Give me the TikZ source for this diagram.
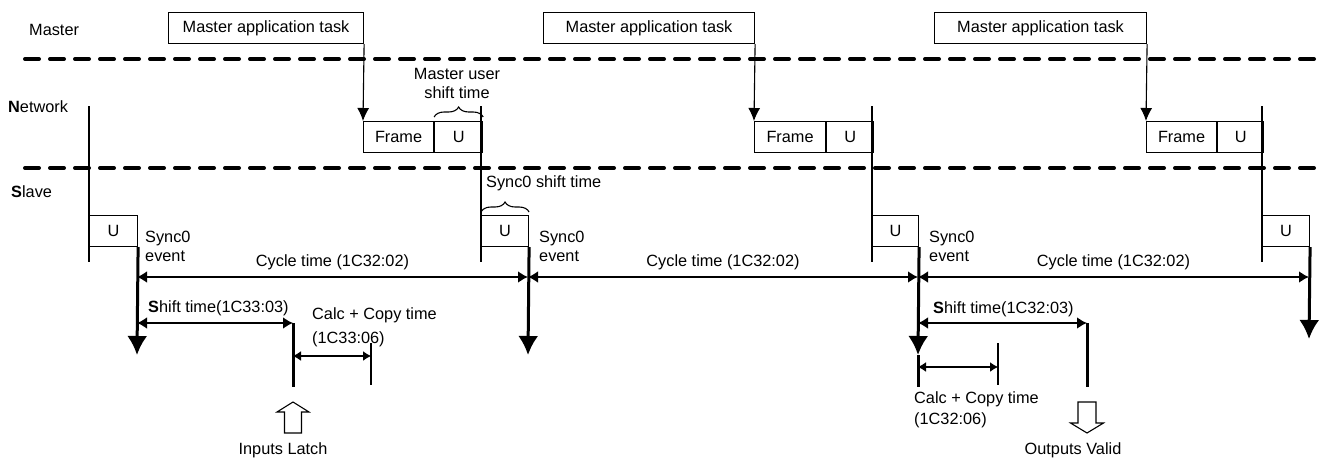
\documentclass[tikz,border=0pt]{standalone}
\usepackage{fontspec}
\setmainfont{Liberation Sans}
\usepackage{tikz}
\tikzset{>=latex}
\usetikzlibrary{arrows.meta}
\usetikzlibrary{decorations.pathreplacing}
\tikzset{
    lane/.style={line width=4pt, dash pattern=on 14pt off 11pt, line cap=round},
    slot/.style={draw, line width=1.1pt, minimum height=31pt, inner sep=0pt, anchor=north west},
    wire/.style={line width=1.1pt},
    event/.style={line width=3pt},
    fall/.style={event, -{Latex[length=19pt,width=20pt]}},
    span/.style={line width=2.8pt, {Latex[length=10pt,width=12pt]}-{Latex[length=10pt,width=12pt]}},
    copyspan/.style={line width=1.3pt, {Latex[length=8pt,width=10pt]}-{Latex[length=8pt,width=10pt]}},
    bracket/.style={line width=1.1pt, decorate, decoration={brace, amplitude=10pt}}
}

\begin{document}
\begin{tikzpicture}[x=1pt, y=-1pt, inner sep=0pt, font=\fontsize{16.3}{19}\selectfont]
            \useasboundingbox (0,0) rectangle (1323,460);
            \node[anchor=west] (master) at (29,30) {Master};
            \node[anchor=west] (network) at (8,107) {\textbf{N}etwork};
            \node[anchor=west] (slave) at (11,192) {\textbf{S}lave};
            \draw[lane] (25,59) -- (1321,59);
            \draw[lane] (25,168) -- (1321,168);

            \node[slot, minimum width=195pt] (task1) at (168,12) {Master application task};
            \node[slot, minimum width=211pt] (task2) at (543,12) {Master application task};
            \node[slot, minimum width=212pt] (task3) at (934,12) {Master application task};
            \node[slot, minimum width=70pt] (frame1) at (363,121) {Frame};
            \node[slot, minimum width=48pt] (unet1) at (frame1.north east) {U};
            \node[slot, minimum width=71pt] (frame2) at (754,121) {Frame};
            \node[slot, minimum width=47pt] (unet2) at (frame2.north east) {U};
            \node[slot, minimum width=70pt] (frame3) at (1146,121) {Frame};
            \node[slot, minimum width=46pt] (unet3) at (frame3.north east) {U};
            \draw[wire, -{Latex[length=13pt,width=12pt]}] (task1.south east) -- (frame1.north west);
            \draw[wire, -{Latex[length=13pt,width=12pt]}] (task2.south east) -- (frame2.north west);
            \draw[wire, -{Latex[length=13pt,width=12pt]}] (task3.south east) -- (frame3.north west);

            \node[slot, minimum width=48pt] (uslave0) at (89,215) {U};
            \node[slot, minimum width=47pt] (uslave1) at (481,215) {U};
            \node[slot, minimum width=46pt] (uslave2) at (872,215) {U};
            \node[slot, minimum width=47pt] (uslave3) at (1262,215) {U};
            \draw[wire] (89,106) -- (89,262);
            \draw[wire] (481,106) -- (481,262);
            \draw[wire] (872,106) -- (872,262);
            \draw[wire] (1262,106) -- (1262,262);

            \draw[bracket] ([yshift=4pt]unet1.north west) -- ([yshift=4pt]unet1.north east);
            \node[align=center] (usertext) at (457,83) {Master user\\shift time};
            \draw[bracket] ([yshift=3pt]uslave1.north west) -- ([yshift=3pt]uslave1.north east);
            \node[anchor=west] (synctext) at (486,183) {Sync0 shift time};

            \coordinate (tip0) at (137,355);
            \coordinate (tip1) at (528,355);
            \coordinate (tip2) at (918,355);
            \coordinate (tip3) at (1309,339);
            \coordinate (end2) at (918,387);
            \draw[fall] (uslave0.south east) -- (tip0);
            \draw[fall] (uslave1.south east) -- (tip1);
            \draw[fall] (uslave2.south east) -- (tip2);
            \draw[event] (tip2) -- (end2);
            \draw[fall] (uslave3.south east) -- (tip3);
            \node[anchor=west, align=left] (ev0) at (145,246.5) {Sync0\\event};
            \node[anchor=west, align=left] (ev1) at (539,246.5) {Sync0\\event};
            \node[anchor=west, align=left] (ev2) at (929,246.5) {Sync0\\event};

            \coordinate (c0) at (137,277);
            \coordinate (c1) at (528,277);
            \coordinate (c2) at (918,277);
            \coordinate (c3) at (1309,277);
            \draw[span] (c0) -- (c1) node[midway, above=6pt] (cyc1) {Cycle time (1C32:02)};
            \draw[span] (c1) -- (c2) node[midway, above=6pt] (cyc2) {Cycle time (1C32:02)};
            \draw[span] (c2) -- (c3) node[midway, above=6pt] (cyc3) {Cycle time (1C32:02)};

            \coordinate (sh0) at (137,323);
            \coordinate (latch) at (293,323);
            \coordinate (latchend) at (293,387);
            \draw[span] (sh0) -- (latch);
            \draw[event] (latch) -- (latchend);
            \node[anchor=west] (shift0) at (148,308) {\textbf{S}hift time(1C33:03)};
            \coordinate (sh2) at (918,323);
            \coordinate (valid) at (1087,323);
            \coordinate (validend) at (1087,387);
            \draw[span] (sh2) -- (valid);
            \draw[event] (valid) -- (validend);
            \node[anchor=west] (shift2) at (933,309) {\textbf{S}hift time(1C32:03)};

            \coordinate (cp0) at (293,356);
            \coordinate (cp1) at (371,356);
            \draw[copyspan] (cp0) -- (cp1);
            \draw[wire] (371,343) -- (371,385);
            \node[anchor=north west, align=left] (copy0) at (312,307) {Calc + Copy time\\[5pt](1C33:06)};
            \coordinate (cp2) at (918,367);
            \coordinate (cp3) at (998,367);
            \draw[copyspan] (cp2) -- (cp3);
            \draw[wire] (998,343) -- (998,385);
            \node[anchor=north west, align=left] (copy2) at (914,391) {Calc + Copy time\\[2pt](1C32:06)};

            \coordinate (uparrow) at (293,402);
            \draw[wire] (uparrow) -- ++(16,10) -- ++(-7.5,0) -- ++(0,21) -- ++(-17,0) -- ++(0,-21) -- ++(-7.5,0) -- cycle;
            \node (latchtext) at (283,450) {Inputs Latch};
            \coordinate (downarrow) at (1087,433);
            \draw[wire] (downarrow) -- ++(-16.5,-10) -- ++(7.5,0) -- ++(0,-21) -- ++(18,0) -- ++(0,21) -- ++(7.5,0) -- cycle;
            \node (validtext) at (1073,450) {Outputs Valid};
        \end{tikzpicture}
\end{document}
